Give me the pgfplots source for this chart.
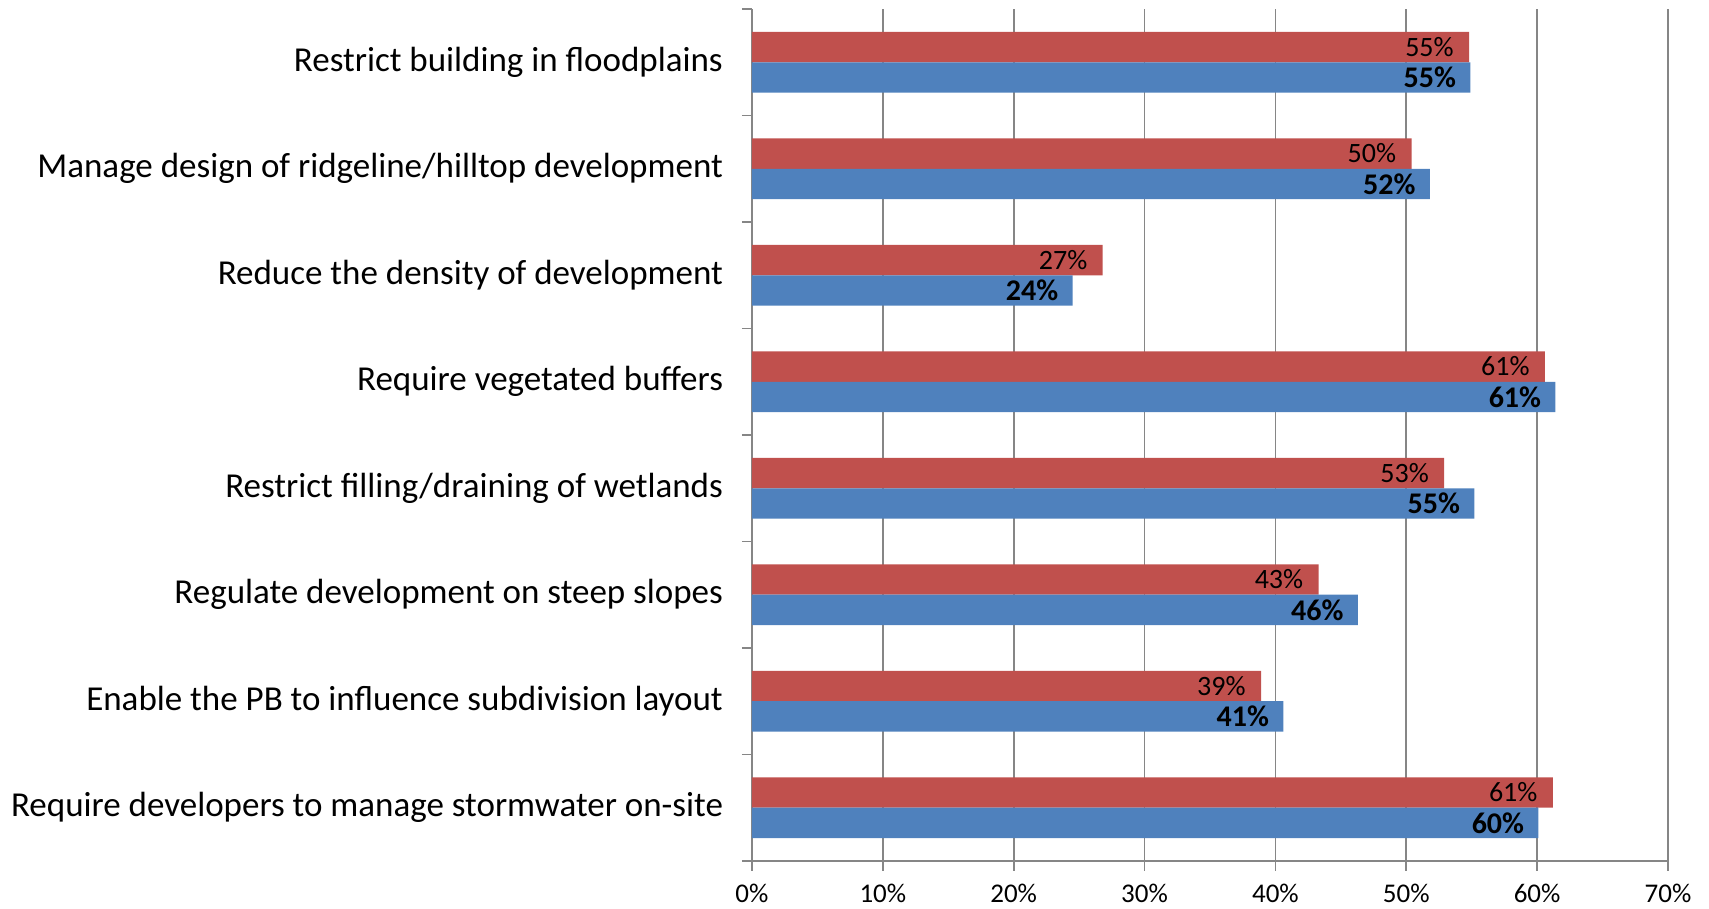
\documentclass[border=0pt]{standalone}
\usepackage{pgfplots}
\pgfplotsset{compat=1.18}
\usepackage{pgfplotstable}
\usepackage{fontspec}
\setmainfont{Carlito}

\definecolor{redbar}{HTML}{C0504D}
\definecolor{bluebar}{HTML}{4F81BD}
\definecolor{gridgray}{HTML}{868686}

% y: 7 = top category (Restrict building in floodplains), 0 = bottom
\pgfplotstableread{
y x lab
7 54.8 55
6 50.4 50
5 26.8 27
4 60.6 61
3 52.9 53
2 43.3 43
1 38.9 39
0 61.2 61
}\redtable

\pgfplotstableread{
y x lab
7 54.9 55
6 51.8 52
5 24.5 24
4 61.4 61
3 55.2 55
2 46.3 46
1 40.6 41
0 60.1 60
}\bluetable

\begin{document}
\begin{tikzpicture}[x=1pt,y=1pt]
\useasboundingbox (-376,-24) rectangle (478.5,430.5);
\begin{axis}[
  at={(0,0)}, anchor=south west,
  scale only axis, width=458pt, height=426pt,
  xmin=0, xmax=70, ymin=-0.5, ymax=7.5,
  axis x line*=bottom, axis y line*=left,
  axis line style={gridgray, line width=0.8pt},
  xtick={0,10,...,70},
  xticklabel={\pgfmathprintnumber{\tick}\%},
  ytick={0,...,7},
  yticklabels={Require developers to manage stormwater on-site,
    Enable the PB to influence subdivision layout,
    Regulate development on steep slopes,
    Restrict filling/draining of wetlands,
    Require vegetated buffers,
    Reduce the density of development,
    Manage design of ridgeline/hilltop development,
    Restrict building in floodplains},
  minor xtick={0,10,...,70},
  minor ytick={-0.5,0.5,...,7.5},
  major tick length=0pt, minor tick length=5pt,
  tick align=outside,
  tick style={gridgray, line width=0.8pt},
  xmajorgrids, major grid style={gridgray, line width=0.8pt},
  /pgf/number format/assume math mode=true,
  xticklabel style={font=\fontsize{13.5}{15}\selectfont, yshift=-8pt},
  yticklabel style={font=\fontsize{17.5}{20}\selectfont, xshift=-11pt},
  bar width=0.285,
]
\addplot[xbar, fill=redbar, draw=none, bar shift=0.1425,
  nodes near coords={\pgfplotspointmeta\%},
  nodes near coords align={anchor=east},
  point meta=explicit symbolic,
  every node near coord/.append style={font=\fontsize{14}{16}\selectfont, text=black, inner sep=0pt, xshift=-7.5pt, yshift=7.6pt, anchor=east}]
  table[x=x, y=y, meta=lab]{\redtable};
\addplot[xbar, fill=bluebar, draw=none, bar shift=-0.1425,
  nodes near coords={\pgfplotspointmeta\%},
  nodes near coords align={anchor=east},
  point meta=explicit symbolic,
  every node near coord/.append style={font=\fontsize{15}{17}\selectfont\bfseries, text=black, inner sep=0pt, xshift=-7pt, yshift=-7.6pt, anchor=east}]
  table[x=x, y=y, meta=lab]{\bluetable};
\end{axis}
\end{tikzpicture}
\end{document}
